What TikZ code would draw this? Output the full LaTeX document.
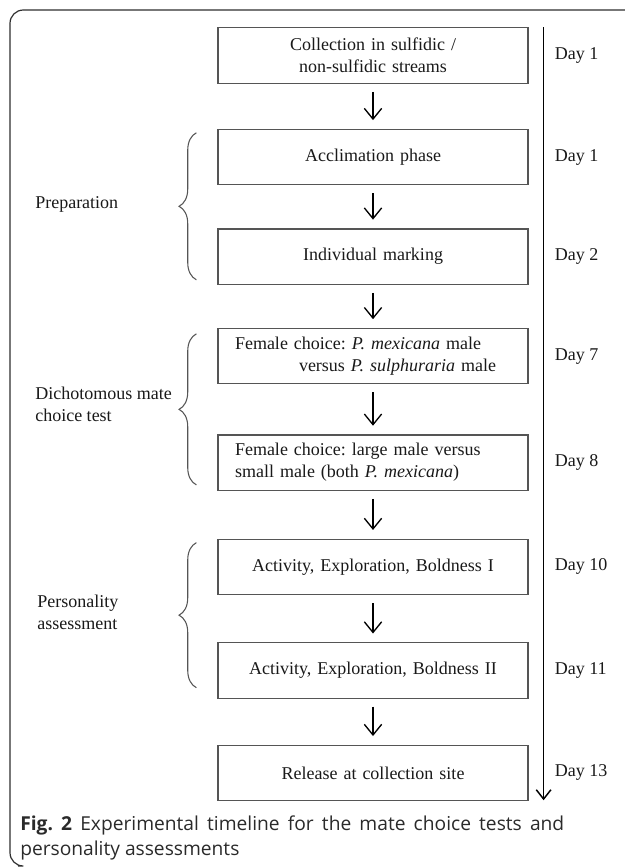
\documentclass[tikz,border=0pt]{standalone}
\usepackage{fontspec}
\setmainfont{Liberation Serif}
\newfontfamily\capfont{Open Sans}
\usetikzlibrary{arrows.meta, positioning, calc, decorations.pathreplacing}
\definecolor{linegray}{HTML}{555555}
\definecolor{framegray}{HTML}{2E2E2E}
\definecolor{capgray}{HTML}{2A2A2A}
\frenchspacing

\begin{document}
\begin{tikzpicture}[
  x=0.75pt, y=-0.75pt,
  font=\fontsize{13.5}{16.5}\selectfont,
  stepbox/.style={rectangle, draw=linegray, line width=0.9pt, text width=207pt,
                  minimum width=232.5pt, minimum height=41.5pt, align=center,
                  inner xsep=12.75pt, inner ysep=3pt, text=black!90},
  daylbl/.style={inner sep=0pt, text=black!90},
  phase/.style={inner sep=0pt, anchor=west, align=left, text=black!90},
  arr/.style={-{Straight Barb[length=8pt, width=13pt]}, line width=1pt,
              shorten <=6pt, shorten >=6.5pt},
  tl/.style={-{Straight Barb[length=7pt, width=11pt]}, line width=1.1pt},
  brc/.style={decorate, decoration={brace, amplitude=13pt}, line width=0.8pt, linegray},
  frame/.style={draw=framegray, line width=0.9pt, rounded corners=10},
  caption/.style={font=\capfont\fontsize{14.4}{18.75}\selectfont, text=capgray,
                  text width=408pt, align=justify, inner sep=0pt, anchor=north west},
]
\useasboundingbox (0,0) rectangle (625,868);

% --- Marco ---
\draw[frame] (625,10) -- (10,10) -- (10,866) -- (18,866);

% --- Pasos ---
\node[stepbox] (collect) at (373,55.5) {Collection in sulfidic /\\non-sulfidic streams};
\node[stepbox, below=33.75pt of collect] (acclim) {Acclimation phase};
\node[stepbox, below=32.25pt of acclim]  (marking) {Individual marking};
\node[stepbox, below=32.25pt of marking, align=left] (choicea)
  {Female choice: \textit{P. mexicana} male\\\hspace*{48pt}versus \textit{P. sulphuraria} male};
\node[stepbox, below=37.5pt of choicea, align=left] (choiceb)
  {Female choice: large male versus\\small male (both \textit{P. mexicana})};
\node[stepbox, below=35.8pt of choiceb] (boldi)   {Activity, Exploration, Boldness I};
\node[stepbox, below=35.25pt of boldi]  (boldii)  {Activity, Exploration, Boldness II};
\node[stepbox, below=34.5pt of boldii]  (release) {Release at collection site};

% --- Flechas ---
\draw[arr] (collect) -- (acclim);
\draw[arr] (acclim)  -- (marking);
\draw[arr] (marking) -- (choicea);
\draw[arr] (choicea) -- (choiceb);
\draw[arr] (choiceb) -- (boldi);
\draw[arr] (boldi)   -- (boldii);
\draw[arr] (boldii)  -- (release);

% --- Linea de tiempo ---
\coordinate (tltop) at ($(collect.north east)+(15,0)$);
\coordinate (tlend) at ($(release.south east)+(15,-1)$);
\draw[tl] (tltop) -- (tlend);

\node[daylbl, right=19.5pt of collect] {Day 1};
\node[daylbl, right=19.5pt of acclim]  {Day 1};
\node[daylbl, right=19.5pt of marking] {Day 2};
\node[daylbl, right=19.5pt of choicea] {Day 7};
\node[daylbl, right=19.5pt of choiceb] {Day 8};
\node[daylbl, right=19.5pt of boldi]   {Day 10};
\node[daylbl, right=19.5pt of boldii]  {Day 11};
\node[daylbl, right=19.5pt of release] {Day 13};

% --- Fases ---
\draw[brc] ($(marking.south west)+(-21,-5)$) -- ($(acclim.north west)+(-21,4)$);
\draw[brc] ($(choiceb.south west)+(-21,-6)$) -- ($(choicea.north west)+(-21,6)$);
\draw[brc] ($(boldii.south west)+(-21,-11)$) -- ($(boldi.north west)+(-21,4)$);

\node[phase] (prep) at (35,204) {Preparation};
\node[phase] (dicho) at (35,404) {Dichotomous mate\\choice test};
\node[phase] (perso) at (37,612) {Personality\\assessment};

% --- Leyenda ---
\node[caption] (cap) at (20,816)
  {\textbf{Fig. 2} Experimental timeline for the mate choice tests and\linebreak personality assessments};

\end{tikzpicture}
\end{document}
